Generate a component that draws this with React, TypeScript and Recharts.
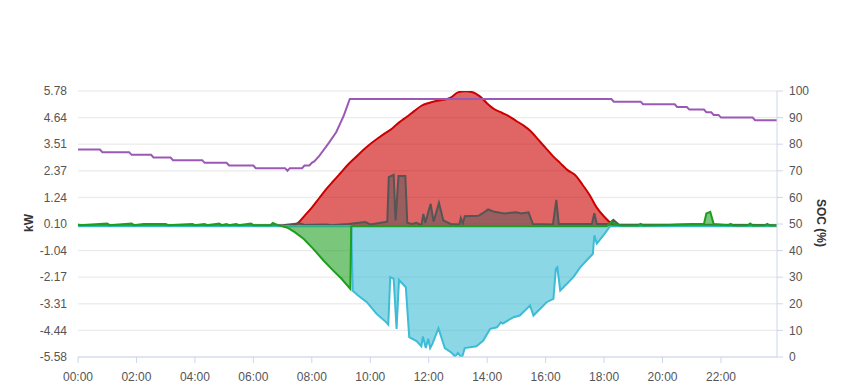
import { ComposedChart, Area, Line, XAxis, YAxis, CartesianGrid } from 'recharts';

// kW axis ticks and SOC axis ticks
const kwTicks = [-5.58, -4.44, -3.31, -2.17, -1.04, 0.1, 1.24, 2.37, 3.51, 4.64, 5.78];
const socTicks = [0, 10, 20, 30, 40, 50, 60, 70, 80, 90, 100];
const hourTicks = ['00:00', '02:00', '04:00', '06:00', '08:00', '10:00', '12:00', '14:00', '16:00', '18:00', '20:00', '22:00'];

// production (kW)
const production: [string, number][] = [
  ['07:15', 0], ['07:30', 0.12], ['07:45', 0.45], ['08:00', 0.8], ['08:15', 1.2], ['08:30', 1.6],
  ['08:45', 1.95], ['09:00', 2.3], ['09:15', 2.65], ['09:30', 2.95], ['09:45', 3.25], ['10:00', 3.52],
  ['10:15', 3.75], ['10:30', 3.97], ['10:45', 4.18], ['11:00', 4.45], ['11:15', 4.68], ['11:30', 4.92],
  ['11:45', 5.15], ['12:00', 5.27], ['12:15', 5.35], ['12:30', 5.4], ['12:45', 5.5], ['13:00', 5.72],
  ['13:15', 5.77], ['13:30', 5.73], ['13:45', 5.55], ['14:00', 5.25], ['14:15', 5.0], ['14:30', 4.85],
  ['14:45', 4.7], ['15:00', 4.5], ['15:15', 4.3], ['15:30', 4.05], ['15:45', 3.7], ['16:00', 3.35],
  ['16:15', 3.0], ['16:30', 2.7], ['16:45', 2.4], ['17:00', 2.2], ['17:15', 1.8], ['17:30', 1.35],
  ['17:45', 0.8], ['18:00', 0.42], ['18:15', 0.12], ['18:25', 0],
];

// consumption (kW)
const consumption: [string, number][] = [
  ['00:00', 0.05], ['07:00', 0.05], ['07:35', 0.13], ['07:45', 0.06], ['08:30', 0.08], ['08:40', 0.05],
  ['09:15', 0.1], ['09:50', 0.18], ['10:00', 0.08], ['10:35', 0.2], ['10:38', 2.1], ['10:48', 2.2],
  ['10:52', 0.25], ['10:58', 2.15], ['11:12', 2.15], ['11:16', 0.15], ['11:25', 0.1], ['11:35', 0.15],
  ['11:45', 0.05], ['11:49', 0.53], ['11:53', 0.15], ['12:04', 0.96], ['12:10', 0.2], ['12:21', 1.0],
  ['12:30', 0.25], ['12:45', 0.1], ['13:03', 0.08], ['13:06', 0.35], ['13:10', 0.12], ['13:14', 0.43],
  ['13:42', 0.45], ['13:50', 0.55], ['14:02', 0.72], ['14:15', 0.62], ['14:35', 0.55], ['15:00', 0.6],
  ['15:10', 0.55], ['15:25', 0.6], ['15:34', 0.1], ['16:15', 0.08], ['16:22', 1.13], ['16:27', 0.1],
  ['17:35', 0.1], ['17:40', 0.56], ['17:45', 0.1], ['18:10', 0.1], ['18:19', 0.28], ['18:30', 0.08],
  ['23:55', 0.05],
];

// battery (kW, charging negative)
const battery: [string, number][] = [
  ['00:00', 0], ['09:21', 0], ['09:24', -2.75], ['09:35', -2.95], ['09:53', -3.24], ['10:13', -3.74],
  ['10:33', -4.1], ['10:37', -4.2], ['10:41', -2.17], ['10:48', -2.24], ['10:54', -4.38], ['10:59', -2.29],
  ['11:13', -2.6], ['11:20', -4.73], ['11:35', -4.9], ['11:45', -5.12], ['11:48', -4.7], ['11:54', -5.2],
  ['11:59', -4.8], ['12:03', -5.2], ['12:08', -5.0], ['12:20', -4.35], ['12:33', -5.2], ['12:47', -5.4],
  ['12:54', -5.56], ['13:00', -5.4], ['13:08', -5.62], ['13:14', -5.2], ['13:38', -5.12], ['13:52', -4.88],
  ['14:06', -4.38], ['14:20', -4.31], ['14:28', -4.1], ['14:32', -4.15], ['14:54', -3.88], ['15:07', -3.81],
  ['15:28', -3.38], ['15:35', -3.81], ['16:02', -3.24], ['16:16', -3.1], ['16:21', -1.82], ['16:24', -1.75],
  ['16:30', -2.74], ['16:57', -2.17], ['17:11', -1.75], ['17:24', -1.46], ['17:37', -1.17], ['17:40', -0.38],
  ['17:45', -0.74], ['17:59', -0.38], ['18:12', 0], ['23:55', 0],
];

// grid (kW)
const grid: [string, number][] = [
  ['00:00', 0.08], ['00:05', 0.05], ['01:00', 0.12], ['01:05', 0.05], ['01:50', 0.12], ['01:55', 0.05],
  ['02:15', 0.1], ['03:00', 0.1], ['03:05', 0.05], ['03:55', 0.1], ['04:00', 0.05], ['04:20', 0.1],
  ['04:25', 0.05], ['04:50', 0.12], ['04:55', 0.05], ['05:05', 0.1], ['05:10', 0.05], ['05:25', 0.1],
  ['05:30', 0.05], ['05:55', 0.12], ['06:00', 0.05], ['06:35', 0.05], ['06:40', 0.15], ['06:50', 0.05],
  ['07:00', 0], ['07:10', -0.06], ['07:25', -0.25], ['07:43', -0.53], ['08:03', -0.96], ['08:24', -1.46],
  ['08:44', -1.89], ['09:01', -2.24], ['09:19', -2.67], ['09:21', 0], ['18:05', 0], ['18:15', 0.2],
  ['18:25', 0.08], ['18:35', 0.04], ['19:10', 0.04], ['19:15', 0.1], ['19:20', 0.04], ['20:15', 0.06],
  ['20:30', 0.08], ['21:00', 0.1], ['21:25', 0.1], ['21:30', 0.55], ['21:38', 0.62], ['21:45', 0.1],
  ['22:15', 0.05], ['22:20', 0.1], ['22:25', 0.04], ['22:55', 0.04], ['23:00', 0.12], ['23:05', 0.04],
  ['23:30', 0.04], ['23:35', 0.1], ['23:40', 0.04], ['23:55', 0.04],
];

// state of charge (%)
const soc: [string, number][] = [
  ['00:00', 78], ['00:45', 78], ['00:50', 77], ['01:45', 77], ['01:50', 76], ['02:30', 76], ['02:35', 75],
  ['03:10', 75], ['03:15', 74], ['04:15', 74], ['04:20', 73], ['05:05', 73], ['05:10', 72], ['06:00', 72],
  ['06:05', 71], ['07:05', 71], ['07:10', 70], ['07:15', 71], ['07:40', 71], ['07:45', 72], ['07:55', 72],
  ['08:00', 73], ['08:05', 73.5], ['08:15', 75.5], ['08:25', 78], ['08:35', 80.5], ['08:50', 84.5],
  ['09:00', 88.5], ['09:05', 90.5], ['09:18', 97], ['18:15', 97], ['18:20', 96], ['19:15', 96], ['19:20', 95],
  ['20:25', 95], ['20:30', 94], ['20:50', 94], ['20:55', 93], ['21:25', 93], ['21:30', 92], ['21:40', 92],
  ['21:45', 91], ['21:55', 91], ['22:00', 90], ['23:05', 90], ['23:10', 89], ['23:55', 89],
];

const toMin = (s: string) => parseInt(s.slice(0, 2), 10) * 60 + parseInt(s.slice(3), 10);
const fmt = (m: number) => {
  const h = Math.floor(m / 60);
  const mm = m % 60;
  return `${String(h).padStart(2, '0')}:${String(mm).padStart(2, '0')}`;
};

type Row = { t: number; [k: string]: number };
const rows = new Map<number, Row>();
const addSeries = (key: string, pts: [string, number][]) => {
  pts.forEach(([time, v]) => {
    const t = toMin(time);
    const row = rows.get(t) || { t };
    row[key] = v;
    rows.set(t, row);
  });
};
addSeries('production', production);
addSeries('consumption', consumption);
addSeries('battery', battery);
addSeries('grid', grid);
addSeries('soc', soc);
const data = Array.from(rows.values()).sort((a, b) => a.t - b.t);

const font = '"Liberation Sans", Arial, sans-serif';
const tickStyle = { fontSize: 12, fill: '#555555', fontFamily: font };
const titleStyle: React.CSSProperties = {
  position: 'absolute', fontFamily: font, fontSize: 12, fontWeight: 'bold', color: '#333333',
  whiteSpace: 'nowrap', transformOrigin: 'center center',
};

const App = () => {
  return (
    <div style={{ position: 'relative', width: 849, height: 390, margin: -8, background: '#fff' }}>
      <ComposedChart width={849} height={390} data={data} margin={{ top: 91, right: 0, bottom: 0, left: 0 }}>
        <CartesianGrid yAxisId="kw" vertical={false} stroke="#e6e6e6" horizontalValues={kwTicks} />
        <XAxis
          dataKey="t"
          type="number"
          domain={[0, 1435]}
          ticks={hourTicks.map(toMin)}
          tickFormatter={fmt}
          height={33}
          stroke="#ccd6eb"
          tickSize={6}
          tickMargin={9}
          tick={tickStyle}
        />
        <YAxis
          yAxisId="kw"
          orientation="left"
          width={78}
          domain={[-5.58, 5.78]}
          ticks={kwTicks}
          tickFormatter={(v: number) => v.toFixed(2)}
          axisLine={false}
          tickLine={false}
          tickSize={6}
          tickMargin={5}
          allowDataOverflow
          tick={tickStyle}
        />
        <YAxis
          yAxisId="soc"
          orientation="right"
          width={72}
          domain={[0, 100]}
          ticks={socTicks}
          stroke="#ccd6eb"
          tickSize={6}
          tickMargin={6}
          allowDataOverflow
          tick={{ ...tickStyle, textAnchor: 'start' }}
        />
        <Line yAxisId="soc" dataKey="soc" type="linear" stroke="#9b59b6" strokeWidth={2} dot={false} activeDot={false} connectNulls isAnimationActive={false} />
        <Area yAxisId="kw" dataKey="production" type="monotone" baseValue={0} stroke="#cc0000" strokeWidth={2} fill="#cc0000" fillOpacity={0.6} dot={false} activeDot={false} connectNulls isAnimationActive={false} />
        <Area yAxisId="kw" dataKey="consumption" type="linear" baseValue={0} stroke="#555555" strokeWidth={2} fill="#555555" fillOpacity={0.5} dot={false} activeDot={false} connectNulls isAnimationActive={false} />
        <Area yAxisId="kw" dataKey="battery" type="linear" baseValue={0} stroke="#3ebcd6" strokeWidth={2} fill="#3ebcd6" fillOpacity={0.6} dot={false} activeDot={false} connectNulls isAnimationActive={false} />
        <Area yAxisId="kw" dataKey="grid" type="linear" baseValue={0} stroke="#1e9e1e" strokeWidth={2} fill="#22a022" fillOpacity={0.6} dot={false} activeDot={false} connectNulls isAnimationActive={false} />
      </ComposedChart>
      <div style={{ ...titleStyle, left: 29, top: 223, transform: 'translate(-50%, -50%) rotate(-90deg)' }}>kW</div>
      <div style={{ ...titleStyle, left: 821, top: 223, transform: 'translate(-50%, -50%) rotate(90deg)' }}>SOC (%)</div>
    </div>
  );
};

export default App;
